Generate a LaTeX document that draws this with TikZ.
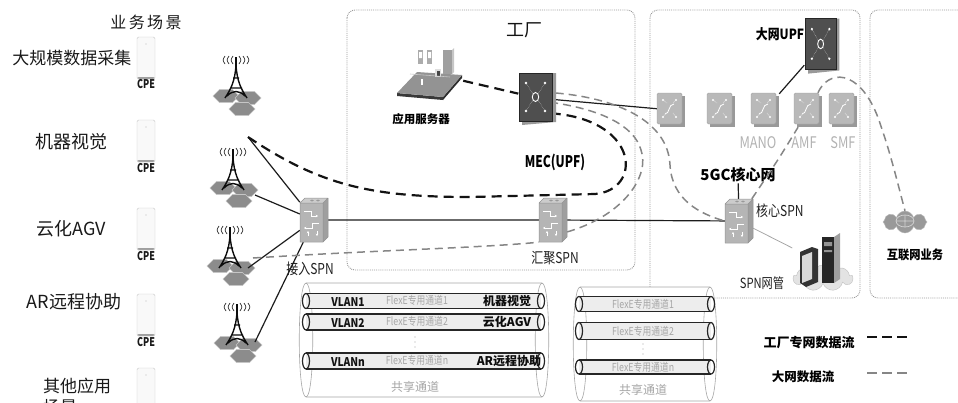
\documentclass[tikz,border=0pt]{standalone}
\usepackage{fontspec}
\setmainfont{Noto Sans CJK SC}
\usepackage{graphicx}
\usepackage{tikz}
\usetikzlibrary{arrows.meta,shapes.symbols}

\newcommand{\narrow}[2][0.8]{\scalebox{#1}[1]{#2}}
\newcommand{\fs}[1]{\fontsize{#1}{#1}\selectfont}

% outer shell of a shared channel: x left, x right, y top, y bottom
\newcommand{\tubeshell}[4]{%
  \filldraw[fill=white, draw=gray!70, line width=0.6pt]
    (#1+7,#3) -- (#2-7,#3) .. controls (#2+2,#3) and (#2+2,#4) .. (#2-7,#4)
    -- (#1+7,#4) .. controls (#1-2,#4) and (#1-2,#3) .. cycle;
  \draw[gray!70, line width=0.6pt]
    (#2-7,#3) .. controls (#2-16,#3) and (#2-16,#4) .. (#2-7,#4)
    (#1+7,#3) .. controls (#1+16,#3) and (#1+16,#4) .. (#1+7,#4);
}
% one FlexE pipe: x left, x right, centre y, half height
\newcommand{\flexpipe}[4]{%
  \fill[gray!14] (#1,#3-#4) rectangle (#2,#3+#4);
  \draw[pipeline] (#1,#3-#4) -- (#2,#3-#4) (#1,#3+#4) -- (#2,#3+#4);
  \draw[pipeline] (#1,#3) ellipse (3.5 and #4) (#2,#3) ellipse (3.5 and #4);
}

\tikzset{
  region/.style={draw=gray!80, densely dotted, line width=0.9pt, rounded corners=8pt},
  scene/.style={inner sep=1pt, text=gray!20!black, font=\fs{18}},
  devbox/.style 2 args={inner sep=0pt, minimum width=#1pt, minimum height=#2pt},
  cpe/.style={draw=gray!45, fill=gray!5, rounded corners=1.5pt, inner sep=0pt,
    minimum width=18pt, minimum height=42pt,
    path picture={
      \fill[gray!75] (path picture bounding box.south west) rectangle ([yshift=2pt]path picture bounding box.south east);
      \fill[gray!55] ([yshift=-7pt]path picture bounding box.north) circle (0.7pt);
    }},
  cpetag/.style={label={[cpetext]below:\narrow[0.75]{CPE}}},
  cpetext/.style={font=\bfseries\fs{12}, text=gray!20!black, inner sep=0.5pt, label distance=0pt},
  spnlbl/.style={inner sep=1pt, text=gray!25!black, font=\fs{15}},
  nflbl/.style={inner sep=1pt, text=gray!60, font=\fs{16}},
  devlbl/.style={inner sep=1pt, text=black, font=\bfseries\fs{12}},
  keylbl/.style={inner sep=1pt, text=black, font=\bfseries\fs{13}},
  vlan/.style={inner sep=0.5pt, text=gray!15!black, font=\bfseries\fs{12}},
  chan/.style={inner sep=0.5pt, text=gray!70, font=\fs{11}},
  svc/.style={inner sep=0.5pt, text=gray!10!black, font=\bfseries\fs{12}},
  shared/.style={inner sep=0.5pt, text=gray!70, font=\fs{12}},
  pipeline/.style={draw=gray!30!black, line width=1.2pt},
  link/.style={draw=gray!22!black, line width=1.2pt},
  thinlink/.style={draw=gray!70, line width=0.8pt},
  fabflow/.style={draw=gray!15!black, line width=2.2pt, dash pattern=on 10pt off 6pt},
  netflow/.style={draw=gray!95, line width=1.5pt, dash pattern=on 8pt off 5pt},
  sym/.style={white, line width=0.9pt, -{Stealth[length=2.4pt,width=2.6pt]}},
  % access / aggregation / core SPN
  spn/.pic={
    \fill[gray!40] (-14,-17) -- (-9,-22) -- (14,-22) -- (9,-17) -- cycle;
    \fill[gray!75] (9,-17) -- (14,-22) -- (14,17) -- (9,22) -- cycle;
    \fill[gray!58] (-14,-17) rectangle (9,22);
    \draw[gray!85, line width=0.5pt, line join=round]
      (-14,-17) -- (-9,-22) -- (14,-22) -- (14,17) -- (9,22) -- (-14,22) -- cycle
      (-14,-17) -- (9,-17) -- (9,22) (9,-17) -- (14,-22);
    \fill[gray!80] (-2,-19.5) ellipse (1.8 and 1) (4,-19.5) ellipse (1.8 and 1);
    \draw[sym] (-10,-9) -- (-3,-9) -- (-3,-4) -- (4,-4);
    \draw[sym] (5,3) -- (-2,3) -- (-2,8) -- (-10,8);
    \draw[sym] (-6,16) -- (-6,11);
    \draw[sym] (3,11) -- (3,16);
  },
  % 5GC network functions
  nf/.pic={
    \fill[gray!80] (-11,-14) rectangle (14,17);
    \fill[gray!55, rounded corners=1.5pt] (-14,-17) rectangle (11,14);
    \draw[gray!75, rounded corners=1.5pt, line width=0.4pt] (-14,-17) rectangle (11,14);
    \draw[white, line width=0.8pt] (-6,4) .. controls (-1,4) and (-3,-6) .. (3,-6);
    \foreach \p in {(-8,-10),(5,-10),(-8,7),(5,7)} { \fill[white] \p circle (1.1pt); }
    \draw[white, densely dotted, line width=0.5pt]
      (-8,-10) -- (-4,-7) (5,-10) -- (2,-7) (-8,7) -- (-5,3) (5,7) -- (2,3);
  },
  % UPF gateway box
  gw/.pic={
    \fill[gray!80] (-15,-22) -- (19,-25) -- (19,24) -- (-15,27) -- cycle;
    \fill[gray!62!black] (-18,-25) rectangle (15,23);
    \draw[gray!30!black, line width=0.5pt] (-18,-25) rectangle (15,23);
    \draw[white, line width=0.9pt] (-1.5,-1) ellipse (3.2 and 4.5);
    \foreach \p in {(-11,-15),(8,-15),(-11,13),(8,13)} { \fill[white] \p circle (1.3pt); }
    \draw[white!80!gray, line width=0.4pt, densely dotted]
      (-11,-15) -- (-4,-4) (8,-15) -- (1,-4) (-11,13) -- (-4,2) (8,13) -- (1,2);
  },
  % application server on its platform
  server/.pic={
    \fill[gray!45!black] (-33,20) -- (13,24) -- (13,27) -- (-33,23) -- cycle;
    \fill[gray!35!black] (13,24) -- (32,2) -- (32,5) -- (13,27) -- cycle;
    \fill[gray!85] (-33,20) -- (13,24) -- (32,2) -- (-13,-1) -- cycle;
    \fill[gray!65] (-12,-23) rectangle (-7,-9);
    \fill[gray!65] (-3,-23) rectangle (2,-9);
    \fill[white] (-11,-21) rectangle (-8,-15) (-2,-21) rectangle (1,-15);
    \fill[gray!75] (13,-23) rectangle (22,1);
    \fill[gray!45] (22,-23) -- (24,-25) -- (24,-1) -- (22,1) -- cycle;
    \fill[gray!25] (5,-4) rectangle (11,4);
    \fill[gray!55!black] (6.5,-2.5) rectangle (9.5,2.5);
    \fill[white] (-9,6) rectangle (-7,12);
    \draw[gray!45, line width=0.6pt] (-20,1) -- (20,4);
  },
  % antenna mast over its cells
  tower/.pic={
    \foreach \cx/\cy in {-10/33, 12/35, 6/46} {
      \filldraw[fill=gray!90, draw=gray!45, line width=0.6pt]
        (\cx-13,\cy) -- (\cx-6.5,\cy-6.5) -- (\cx+6.5,\cy-6.5) -- (\cx+13,\cy)
        -- (\cx+6.5,\cy+6.5) -- (\cx-6.5,\cy+6.5) -- cycle;
    }
    \draw[gray!10!black, line width=1.3pt] (0,-6) -- (0,3);
    \draw[gray!10!black, line width=1.4pt]
      (0,2) .. controls (-1,18) and (-5,26) .. (-11,35)
      (0,2) .. controls (1,18) and (5,26) .. (11,35)
      (-3,15) -- (3,15) (-6,25) -- (6,25)
      (-9,33) .. controls (-3,27) and (3,27) .. (9,33);
    \foreach \d in {4,8,12} {
      \draw[gray!35!black, line width=0.7pt]
        (-\d+1,-7) .. controls (-\d-1.5,-3) .. (-\d+1,1)
        (\d-1,-7) .. controls (\d+1.5,-3) .. (\d-1,1);
    }
  },
}

\begin{document}
\begin{tikzpicture}[x=1pt, y=-1pt]
\useasboundingbox (0,0) rectangle (958,402);

% zones
\draw[region] (347,10) rectangle (635,270);
\draw[region] (650,10) rectangle (860,298);
\draw[region] (870,10) rectangle (985,298);

% service scenarios
\node[scene, font=\fs{16}\addfontfeature{LetterSpace=15}] (head) at (146,22) {业务场景};
\node[scene, font=\fs{17}] (sc1) at (72,58) {大规模数据采集};
\node[scene] (sc2) at (71,142) {机器视觉};
\node[scene] (sc3) at (71,229) {云化AGV};
\node[scene] (sc4) at (74,302) {AR远程协助};
\node[scene, font=\fs{17}] (sc5) at (77,386) {其他应用};
\node[scene, font=\fs{17}] (sc5b) at (60,407) {场景};

\node[cpe, cpetag] (cpe1) at (146,58) {};
\node[cpe, cpetag] (cpe2) at (146,141) {};
\node[cpe, cpetag] (cpe3) at (146,229) {};
\node[cpe, cpetag] (cpe4) at (146,315) {};
\node[cpe] (cpe5) at (146,389) {};

% base stations
\pic at (236,63) {tower};
\pic at (233,155) {tower};
\pic at (230,233) {tower};
\pic at (237,310) {tower};
\coordinate (bs2top) at (248,137);
\coordinate (bs2) at (255,195);
\coordinate (bs3top) at (253,258);
\coordinate (bs3) at (248,268);
\coordinate (bs4) at (255,342);

% device anchors
\node[devbox={28}{44}] (acc) at (314,220) {};
\node[devbox={28}{44}] (agg) at (553,220) {};
\node[devbox={28}{44}] (core) at (739,221) {};
\node[devbox={37}{50}] (mec) at (537,98) {};
\node[devbox={35}{54}] (upf) at (822,45) {};
\node[devbox={66}{50}] (app) at (430,73) {};
\foreach \i/\x in {1/671,2/721,3/765,4/808,5/843}
  \node[devbox={28}{34}] (nf\i) at (\x,110) {};
\node[devbox={55}{55}] (nms) at (820,262) {};

% labels
\node[inner sep=1pt, font=\fs{18}, text=gray!15!black] (fab) at (524,30) {工厂};
\node[devlbl, font=\bfseries\fs{11.5}] (applbl) at (421,119) {应用服务器};
\node[devlbl, font=\bfseries\fs{16}] (meclbl) at (555,162) {\narrow[0.75]{MEC(UPF)}};
\node[devlbl, font=\bfseries\fs{14}] (upflbl) at (780,34) {\narrow[0.85]{大网UPF}};
\node[devlbl, font=\bfseries\fs{15}] (gc) at (738,175) {5GC核心网};
\node[nflbl] (mano) at (758,143) {\narrow{MANO}};
\node[nflbl] (amf) at (804,143) {\narrow{AMF}};
\node[nflbl] (smf) at (843,143) {\narrow{SMF}};
\node[spnlbl] (acclbl) at (310,269) {\narrow{接入SPN}};
\node[spnlbl] (agglbl) at (555,258) {\narrow{汇聚SPN}};
\node[spnlbl, anchor=west] (corelbl) at (755,211) {\narrow{核心SPN}};
\node[spnlbl, font=\fs{14}] (nmslbl) at (762,283) {\narrow{SPN网管}};
\node[devlbl, font=\bfseries\fs{12.5}] (inetlbl) at (915,255) {\narrow[0.9]{互联网业务}};

% physical links
\draw[link] (bs2top) -- (acc);
\draw[link] (bs2) -- (acc);
\draw[link] (bs3) -- (acc);
\draw[link] (bs4) -- (acc);
\draw[link] (acc) -- (agg) -- (core);
\draw[link] (mec) -- (nf1);
\draw[link] (upf) -- (nf3);
\draw[link] (gc) -- (core);
\draw[thinlink] (core) -- (nms);

% factory private traffic
\draw[fabflow] (bs2top) .. controls (320,185) and (370,197) .. (470,197) -- (595,194)
  .. controls (642,190) and (640,122) .. (mec.-40);
\draw[fabflow] (app) -- (mec);

% public network traffic
\draw[netflow] (bs3top) .. controls (380,250) and (480,248) .. (agg.south west);
\draw[netflow] (agg.-40) .. controls (625,215) and (650,175) .. (641,150)
  .. controls (634,125) and (600,110) .. (mec.-15);
\draw[netflow] (mec.15) .. controls (615,98) and (668,120) .. (670,165)
  .. controls (672,200) and (700,214) .. (core.west);
\draw[netflow] (core.60) .. controls (778,160) .. (nf4.-120);

% devices
\pic at (acc) {spn};
\pic at (agg) {spn};
\pic at (core) {spn};
\pic at (mec) {gw};
\pic[yscale=1.06, xscale=0.92] at (upf) {gw};
\pic at (app) {server};
\foreach \i in {1,...,5} \pic at (nf\i) {nf};

% network management station
\node[cloud, cloud puffs=9, aspect=2.4, fill=gray!22, draw=gray!50, inner sep=0pt,
  minimum width=60pt, minimum height=26pt] (nmscloud) at (823,278) {};
\fill[gray!40!black] (800,252) -- (812,247) -- (818,249) -- (818,282) -- (806,287) -- (800,283) -- cycle;
\fill[gray!30] (802,256) -- (812,252) -- (812,279) -- (802,283) -- cycle;
\fill[gray!30!black] (822,237) rectangle (834,283);
\fill[gray!75] (834,237) -- (840,233) -- (840,279) -- (834,283) -- cycle;
\fill[gray!85] (824,242) rectangle (832,246) (824,250) rectangle (832,252);

% internet cloud
\node[cloud, cloud puffs=8, aspect=2, fill=gray!80, draw=gray!55, inner sep=0pt,
  minimum width=44pt, minimum height=22pt] (inet) at (905,222) {};
\draw[gray!35, line width=0.7pt] (905,221) ellipse (9 and 6) (896,221) -- (914,221) (905,215) -- (905,227);

\draw[netflow] (nf4.60) .. controls (828,70) and (858,68) .. (877,115)
  .. controls (890,150) and (898,185) .. (inet.north);

% shared channels
\tubeshell{299}{549}{283}{397}
\flexpipe{306}{541}{301}{7.5}
\flexpipe{306}{541}{322}{8}
\flexpipe{306}{541}{361}{8}
\node[vlan] (vl1) at (348,302) {\narrow[0.85]{VLAN1}};
\node[vlan] (vl2) at (348,323) {\narrow[0.85]{VLAN2}};
\node[vlan] (vln) at (348,362) {\narrow[0.85]{VLANn}};
\node[chan] (ch1) at (417,300) {\narrow{FlexE专用通道1}};
\node[chan] (ch2) at (417,321) {\narrow{FlexE专用通道2}};
\node[chan] (chn) at (417,360) {\narrow{FlexE专用通道n}};
\node[svc] (sv1) at (507,301) {机器视觉};
\node[svc] (sv2) at (507,322) {云化AGV};
\node[svc] (svn) at (509,361) {AR远程协助};
\foreach \y in {337,342,347} \fill[gray!70] (415,\y) circle (0.7pt);
\node[shared] (sharel) at (415,387) {共享通道};

\tubeshell{573}{717}{287}{401}
\flexpipe{579}{711}{304}{7.5}
\flexpipe{579}{711}{331}{8.5}
\flexpipe{579}{711}{367}{7}
\node[chan] (rc1) at (643,304) {\narrow{FlexE专用通道1}};
\node[chan] (rc2) at (643,331) {\narrow{FlexE专用通道2}};
\node[chan] (rcn) at (643,367) {\narrow{FlexE专用通道n}};
\foreach \y in {344,349,354} \fill[gray!70] (643,\y) circle (0.7pt);
\node[shared] (sharer) at (643,390) {共享通道};

% legend
\node[keylbl] (key1) at (809,343) {工厂专网数据流};
\node[keylbl, font=\bfseries\fs{12.5}] (key2) at (803,377) {大网数据流};
\coordinate (k1a) at (867,337);
\coordinate (k1b) at (909,337);
\coordinate (k2a) at (867,373);
\coordinate (k2b) at (909,373);
\draw[fabflow, dash pattern=on 10pt off 5pt] (k1a) -- (k1b);
\draw[netflow, dash pattern=on 10pt off 5pt] (k2a) -- (k2b);
\end{tikzpicture}
\end{document}
